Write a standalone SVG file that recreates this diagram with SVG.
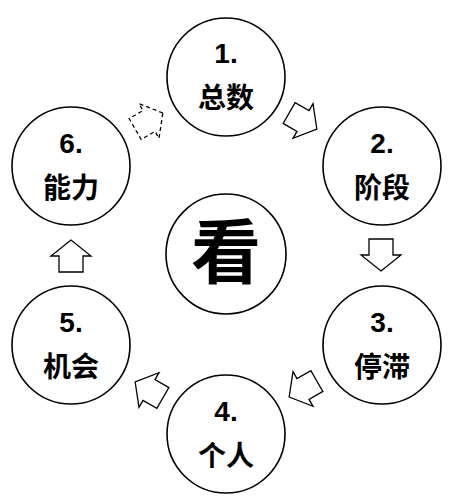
<svg xmlns="http://www.w3.org/2000/svg" width="465" height="504" viewBox="0 0 465 504">
  <style>
    .c { fill: #fff; stroke: #000; stroke-width: 1.6; }
    .t { font-family: "Liberation Sans", "Noto Sans CJK SC", sans-serif; font-weight: bold; font-size: 28px; text-anchor: middle; fill: #000; }
    .big { font-size: 70px; }
    .a { fill: #fff; stroke: #000; stroke-width: 1.3; stroke-linejoin: miter; }
    .d { stroke-dasharray: 4 3; }
  </style>
  <defs>
    <path id="arr" d="M16,0 L0,-20 L0,-12 L-16,-12 L-16,12 L0,12 L0,20 Z"/>
  </defs>
  <rect width="465" height="504" fill="#fff"/>
  <g id="connectors">
    <use href="#arr" class="a" transform="translate(303,121) rotate(30)"/>
    <use href="#arr" class="a" transform="translate(381,255) rotate(90)"/>
    <use href="#arr" class="a" transform="translate(303,389) rotate(150)"/>
    <use href="#arr" class="a" transform="translate(149,390) rotate(210)"/>
    <use href="#arr" class="a" transform="translate(71,256) rotate(-90)"/>
    <use href="#arr" class="a d" transform="translate(149,121) rotate(-30)"/>
  </g>
  <g id="center">
    <circle class="c" cx="226" cy="254" r="60"/>
    <text class="t big" x="226" y="278">看</text>
  </g>
  <g id="node1">
    <circle class="c" cx="226" cy="77" r="59"/>
    <text class="t" x="226" y="63">1.</text>
    <text class="t" x="226" y="108">总数</text>
  </g>
  <g id="node2">
    <circle class="c" cx="382" cy="166" r="59"/>
    <text class="t" x="382" y="153">2.</text>
    <text class="t" x="382" y="198">阶段</text>
  </g>
  <g id="node3">
    <circle class="c" cx="382" cy="345" r="59"/>
    <text class="t" x="382" y="332">3.</text>
    <text class="t" x="382" y="377">停滞</text>
  </g>
  <g id="node4">
    <circle class="c" cx="226" cy="434" r="59"/>
    <text class="t" x="226" y="421">4.</text>
    <text class="t" x="226" y="466">个人</text>
  </g>
  <g id="node5">
    <circle class="c" cx="71" cy="345" r="59"/>
    <text class="t" x="71" y="332">5.</text>
    <text class="t" x="71" y="377">机会</text>
  </g>
  <g id="node6">
    <circle class="c" cx="71" cy="166" r="59"/>
    <text class="t" x="71" y="153">6.</text>
    <text class="t" x="71" y="198">能力</text>
  </g>
</svg>
